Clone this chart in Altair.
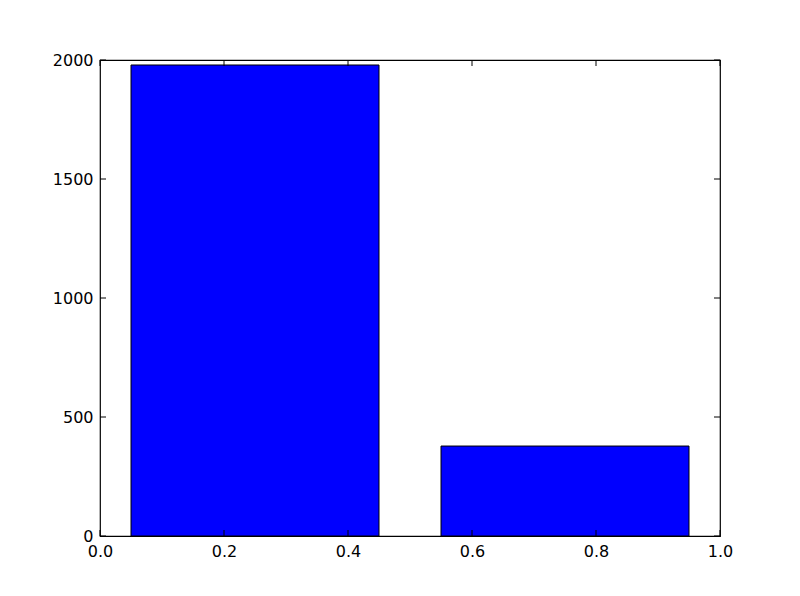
import altair as alt
import pandas as pd

bar_left = [0.05, 0.55]
bar_right = [0.45, 0.95]
values = [1979, 378]
x_ticks = [0.0, 0.2, 0.4, 0.6, 0.8, 1.0]
y_ticks = [0, 500, 1000, 1500, 2000]

W, H = 620, 476
df = pd.DataFrame({"x0": bar_left, "x1": bar_right, "v": values})
xt = pd.DataFrame({"t": x_ticks})
yt = pd.DataFrame({"t": y_ticks})

xs = alt.Scale(domain=[0, 1], nice=False, zero=False)
ys = alt.Scale(domain=[0, 2000], nice=False)

FONT = "DejaVu Sans"
FS = 16

bars = alt.Chart(df).mark_rect(color="#0000ff", stroke="black", strokeWidth=1).encode(
    x=alt.X("x0:Q", scale=xs, axis=alt.Axis(values=x_ticks, format=".1f", title=None,
                                             ticks=False, labelPadding=7, labelFontSize=FS,
                                             labelFont=FONT, labelColor="black",
                                             labelFlush=False, labelOverlap=False,
                                             domain=False, grid=False)),
    x2="x1:Q",
    y=alt.Y("v:Q", scale=ys, axis=alt.Axis(values=y_ticks, format="d", title=None, ticks=False,
                                            labelPadding=7, labelFontSize=FS, labelFont=FONT,
                                            labelColor="black", labelFlush=False,
                                            labelOverlap=False, domain=False, grid=False)),
    y2=alt.datum(0),
)

TL = 6
xb = alt.Chart(xt).mark_rule(color="black", strokeWidth=1).encode(
    x=alt.X("t:Q", scale=xs), y=alt.value(H), y2=alt.value(H - TL))
xtop = alt.Chart(xt).mark_rule(color="black", strokeWidth=1).encode(
    x=alt.X("t:Q", scale=xs), y=alt.value(0), y2=alt.value(TL))
yl = alt.Chart(yt).mark_rule(color="black", strokeWidth=1).encode(
    y=alt.Y("t:Q", scale=ys), x=alt.value(0), x2=alt.value(TL))
yr = alt.Chart(yt).mark_rule(color="black", strokeWidth=1).encode(
    y=alt.Y("t:Q", scale=ys), x=alt.value(W), x2=alt.value(W - TL))

chart = alt.layer(bars, xb, xtop, yl, yr).properties(
    width=W, height=H,
    background="white",
    autosize=alt.AutoSizeParams(type="none"),
    padding={"left": 92, "top": 52, "right": 72, "bottom": 52},
).configure_view(stroke="black", strokeWidth=1.2)

chart.save("out.html", embed_options={"renderer": "svg", "actions": False})
